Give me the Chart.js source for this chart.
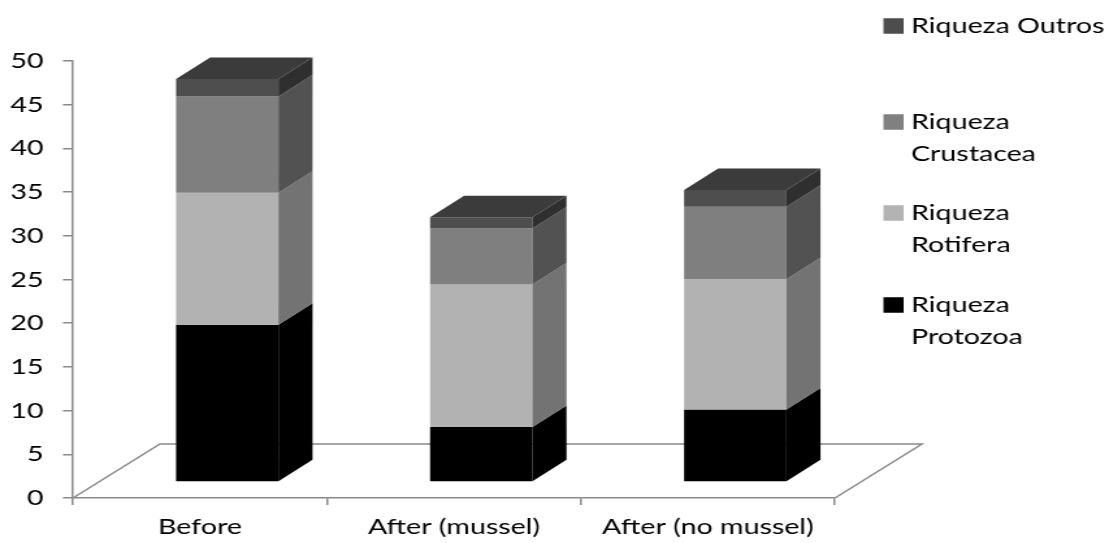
<!DOCTYPE html>
<html>
<head>
<meta charset="utf-8">
<script src="https://cdn.jsdelivr.net/npm/chart.js@4/dist/chart.umd.min.js"></script>
<style>
  html, body { margin: 0; padding: 0; background: #fff; overflow: hidden; }
  #wrap { width: 1109px; height: 543px; overflow: hidden; background: #fff; }
  canvas { display: block; transform-origin: 0 0; }
</style>
</head>
<body>
<div id="wrap"><canvas id="c" width="853" height="543"></canvas></div>
<script>
// Species richness per group, stacked bottom to top
const categories = ['Before', 'After (mussel)', 'After (no mussel)'];
const protozoa  = [18, 6.3, 8.3];
const rotifera  = [15.1, 16.3, 14.9];
const crustacea = [11, 6.4, 8.3];
const outros    = [2, 1.3, 1.9];
const yMin = 0, yMax = 50, yStep = 5;

// Legend text, one array entry per printed line
const legendProtozoa  = ['Riqueza', 'Protozoa'];
const legendRotifera  = ['Riqueza', 'Rotifera'];
const legendCrustacea = ['Riqueza', 'Crustacea'];
const legendOutros    = ['Riqueza Outros'];

// Face colours: front, side, top
const STYLE = [
  { front: '#000000', side: '#000000', top: '#111111', key: '#000000' },
  { front: '#b2b2b2', side: '#737373', top: '#9a9a9a', key: '#b3b3b3' },
  { front: '#7f7f7f', side: '#525252', top: '#666666', key: '#808080' },
  { front: '#4e4e4e', side: '#2f2f2f', top: '#3b3b3b', key: '#4d4d4d' }
];
const AXIS = '#898989';

const STRETCH = 1109 / 853;          // the drawing is widened horizontally
const canvas = document.getElementById('c');
canvas.style.transform = 'scaleX(' + STRETCH + ')';

// Oblique projection settings
const FLOOR_DX = 66.9, FLOOR_DY = 54;   // floor depth
const SHIFT_DX = 21,   SHIFT_DY = 16;   // bar front face set back into the floor
const DEPTH_DX = 26.2, DEPTH_DY = 21.5; // bar thickness

Chart.defaults.font.family = 'Lato, "Open Sans", sans-serif';
Chart.defaults.font.size = 22;
Chart.defaults.color = '#000';

function poly(ctx, pts, fill) {
  ctx.beginPath();
  ctx.moveTo(pts[0][0], pts[0][1]);
  for (let k = 1; k < pts.length; k++) ctx.lineTo(pts[k][0], pts[k][1]);
  ctx.closePath();
  ctx.fillStyle = fill;
  ctx.fill();
}

const bars3d = {
  id: 'bars3d',
  beforeDraw(chart) {
    const ctx = chart.ctx;
    ctx.save();
    ctx.fillStyle = '#fff';
    ctx.fillRect(0, 0, chart.width, chart.height);
    ctx.restore();
  },
  beforeDatasetsDraw(chart) {
    const ctx = chart.ctx;
    const { left, right } = chart.chartArea;
    const base = chart.scales.y.getPixelForValue(0);
    ctx.save();
    // floor outline
    ctx.strokeStyle = AXIS;
    ctx.lineWidth = 1.5;
    ctx.beginPath();
    ctx.moveTo(left, base);
    ctx.lineTo(left + FLOOR_DX, base - FLOOR_DY);
    ctx.lineTo(right + FLOOR_DX, base - FLOOR_DY);
    ctx.lineTo(right, base);
    ctx.stroke();

    // stacked prisms
    const n = chart.data.datasets.length;
    for (let i = 0; i < chart.data.labels.length; i++) {
      for (let j = 0; j < n; j++) {
        const el = chart.getDatasetMeta(j).data[i];
        const p = el.getProps(['x', 'y', 'base', 'width'], true);
        const L = p.x - p.width / 2 + SHIFT_DX;
        const R = L + p.width;
        const T = p.y - SHIFT_DY;
        const B = p.base - SHIFT_DY;
        const st = STYLE[j];
        poly(ctx, [[L, T], [R, T], [R, B], [L, B]], st.front);
        poly(ctx, [[R, T], [R + DEPTH_DX, T - DEPTH_DY], [R + DEPTH_DX, B - DEPTH_DY], [R, B]], st.side);
        if (j === n - 1) {
          poly(ctx, [[L, T], [L + DEPTH_DX, T - DEPTH_DY], [R + DEPTH_DX, T - DEPTH_DY], [R, T]], st.top);
        }
      }
    }
    ctx.restore();
    return false; // the flat default bars are replaced by the prisms above
  },
  afterDraw(chart) {
    // legend, top series first
    const ctx = chart.ctx;
    const rows = chart.options.plugins.bars3d.legendRows;
    const x = 679.5, textX = 700.7, box = 15.5, lineH = 31.5;
    ctx.save();
    ctx.font = '22px ' + Chart.defaults.font.family;
    ctx.textBaseline = 'middle';
    ctx.textAlign = 'left';
    const ds = chart.data.datasets;
    for (let r = 0; r < ds.length; r++) {
      const j = ds.length - 1 - r;
      const y = rows[r];
      ctx.fillStyle = STYLE[j].key;
      ctx.fillRect(x, y - box / 2, box, box);
      ctx.fillStyle = '#000';
      ds[j].legendLines.forEach((t, k) => ctx.fillText(t, textX, y + k * lineH));
    }
    ctx.restore();
  }
};

const seriesValues = [protozoa, rotifera, crustacea, outros];
const seriesLegend = [legendProtozoa, legendRotifera, legendCrustacea, legendOutros];
const datasets = seriesValues.map((vals, j) => ({
  label: seriesLegend[j].join(' '),
  legendLines: seriesLegend[j],
  data: vals,
  backgroundColor: STYLE[j].front,
  categoryPercentage: 1,
  barPercentage: 0.403
}));

new Chart(canvas, {
  type: 'bar',
  data: { labels: categories, datasets },
  plugins: [bars3d],
  options: {
    responsive: false,
    animation: false,
    events: [],
    layout: { padding: { top: 61, right: 210.8, bottom: 0, left: 0 } },
    plugins: {
      legend: { display: false },
      tooltip: { enabled: false },
      bars3d: { legendRows: [26, 122, 213, 305] }
    },
    scales: {
      x: {
        stacked: true,
        offset: true,
        grid: { display: true, offset: true, drawOnChartArea: false, drawTicks: true, tickLength: 7, color: AXIS, lineWidth: 1.5 },
        border: { display: true, color: AXIS, width: 1.5 },
        ticks: { color: '#000', padding: 9, maxRotation: 0, autoSkip: false },
        afterFit(s) { s.height = 45; }
      },
      y: {
        stacked: true,
        min: yMin,
        max: yMax,
        grid: { drawOnChartArea: false, drawTicks: true, tickLength: 7.7, color: AXIS, lineWidth: 1.5 },
        border: { display: true, color: AXIS, width: 1.5 },
        ticks: { stepSize: yStep, color: '#000', padding: 15 },
        afterFit(s) { s.width = 56.1; }
      }
    }
  }
});
</script>
</body>
</html>
